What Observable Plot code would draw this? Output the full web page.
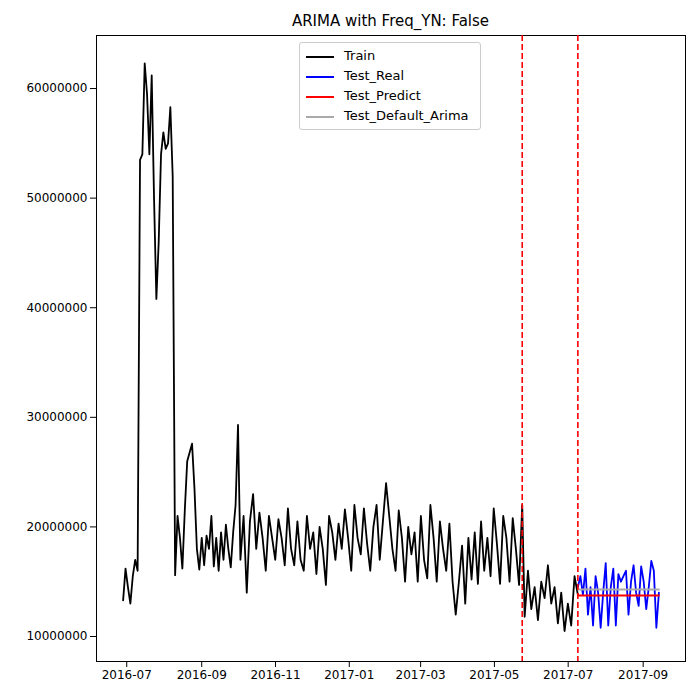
<!DOCTYPE html>
<html><head><meta charset="utf-8">
<script src="https://cdn.jsdelivr.net/npm/d3@7"></script>
<script src="https://cdn.jsdelivr.net/npm/@observablehq/plot@0.6"></script>
<style>
body{margin:0;font-family:"DejaVu Sans",sans-serif;background:#fff}
#wrap{position:relative;width:700px;height:700px}
#title{position:absolute;top:12px;left:96px;width:589px;text-align:center;font-size:15px}
#legend{position:absolute;top:42px;left:299px;width:168px;border:1px solid #ccc;border-radius:3px;background:#fff;padding:3px 6px;font-size:13px;line-height:20px}
#legend span.s{display:inline-block;width:28px;height:2px;vertical-align:middle;margin-right:10px}
</style></head><body>
<div id="wrap"><div id="chart"></div>
<div id="title">ARIMA with Freq_YN: False</div>
<div id="legend">
<div><span class="s" style="background:black"></span>Train</div>
<div><span class="s" style="background:blue"></span>Test_Real</div>
<div><span class="s" style="background:red"></span>Test_Predict</div>
<div><span class="s" style="background:#aaa"></span>Test_Default_Arima</div>
</div></div>
<script>
// values in millions, in segments between read-off anchor dates
const trainSegs = [
  ['2016-06-28', '2016-07-10', [13.3,16.2,14.5,13.0,15.5,17.0,16.0]],
  ['2016-07-12', '2016-08-08', [53.5,54,62.3,59.5,54,61.2,50,40.8,46,54,56,54.5,55,58.3,52]],
  ['2016-08-10', '2016-10-01', [15.6,21,19,16.2,21.5,26,26.8,27.6,23.5,18,16.1,19,16.5,19.2,18,21,16.4,19,16,19.5,17,20.2,18,16.3,19.5,22,29.3]],
  ['2016-10-03', '2017-05-24', [17,21,14,20.5,23,18,21.3,19,16,21,19,17,20.7,19,16.5,21.7,18,16.5,20.5,17,16,21,18,19.5,15.7,20,18,14.7,21,19.5,17,20.3,18,21.6,19,16,22,19,17.5,21.7,18.5,16,20,22,17,20.5,24,21,18,16,21.5,19,15,20,17.5,19.5,15,21,17,15.3,22,19,15,20.5,18,16,20.3,15,12,15,18.3,13,19,15.2,19.5,14.8,20.5,16,19,15.5,21.7,18.5,14.8,21,19,15,20.8,18,14.7,22]],
  ['2017-05-26', '2017-07-09', [11.8,16,12.5,14.5,11.5,15,13.5,16.5,13,14.5,11.2,14,10.5,13,11,15.5,13.8]]
]
const testStart = '2017-07-09', testEnd = '2017-09-14'
const testReal = [14.5,15.5,13.8,16.2,12,14.5,11,15.5,14,10.8,14,16.7,11,14.5,16.2,11,15.7,15,15.5,16,12,15,16.5,14,12.8,16.4,15,12.5,14.5,16.9,16,10.8,14]
const testPredict = 13.74
const testDefault = 14.3
const cutLines = ['2017-05-24', '2017-07-09']

function series(start, end, vals) {
  const a = new Date(start), b = new Date(end), step = (b - a) / (vals.length - 1)
  return vals.map((v, i) => ({date: new Date(+a + i * step), value: v * 1e6}))
}
const train = trainSegs.flatMap(([a, b, v]) => series(a, b, v))
const test = series(testStart, testEnd, testReal)
const flat = v => [{date: new Date(testStart), value: v * 1e6}, {date: new Date(testEnd), value: v * 1e6}]

const chart = Plot.plot({
  width: 700, height: 700,
  marginTop: 35, marginLeft: 96, marginRight: 15, marginBottom: 39,
  style: {fontSize: '12px', fontFamily: 'DejaVu Sans'},
  x: {type: 'utc', domain: [new Date('2016-06-06'), new Date('2017-10-06')],
      ticks: d3.utcMonth.every(2).range(new Date('2016-07-01'), new Date('2017-10-01')),
      tickFormat: d3.utcFormat('%Y-%m'), label: null},
  y: {domain: [7.72e6, 64.84e6], ticks: [1e7,2e7,3e7,4e7,5e7,6e7], tickFormat: d => d3.format('d')(d), label: null},
  marks: [
    Plot.frame({stroke: 'black'}),
    Plot.line(train, {x: 'date', y: 'value', stroke: 'black', strokeWidth: 1.8}),
    Plot.line(test, {x: 'date', y: 'value', stroke: 'blue', strokeWidth: 1.8}),
    Plot.line(flat(testDefault), {x: 'date', y: 'value', stroke: '#aaa', strokeWidth: 2}),
    Plot.line(flat(testPredict), {x: 'date', y: 'value', stroke: 'red', strokeWidth: 2}),
    Plot.ruleX(cutLines.map(d => new Date(d)), {stroke: 'red', strokeWidth: 1.6, strokeDasharray: '6,3'})
  ]
})
d3.select('#chart').append(() => chart)
</script></body></html>
